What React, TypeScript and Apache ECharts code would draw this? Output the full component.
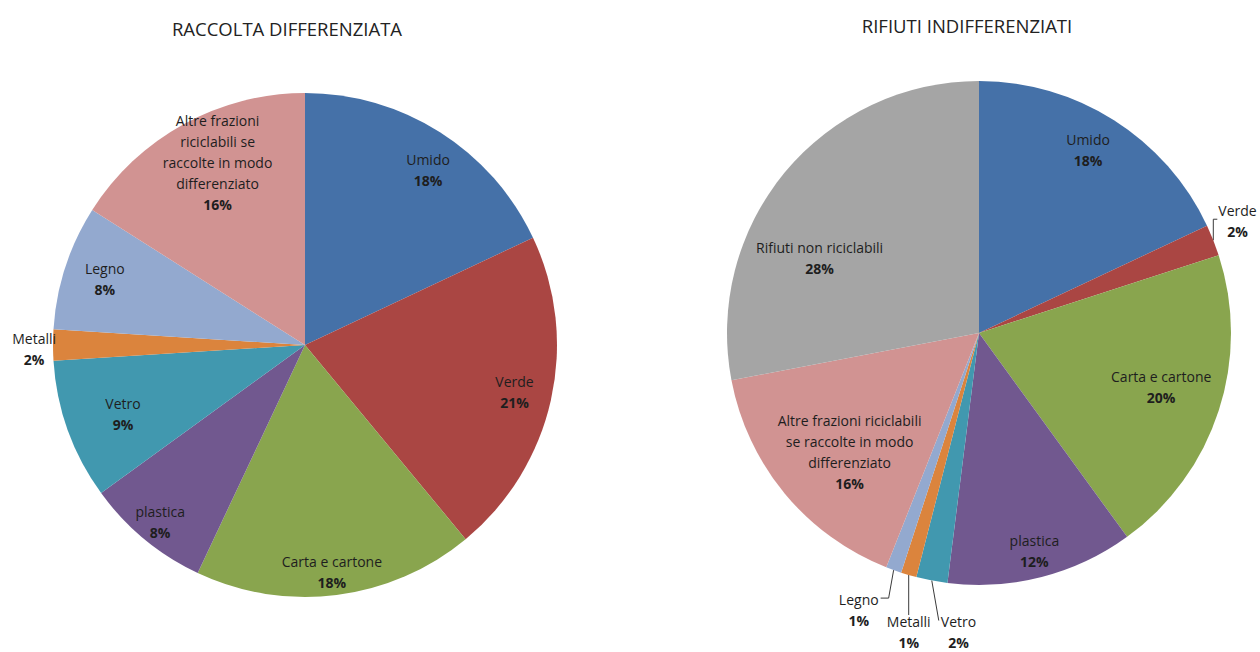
import React, { useEffect, useRef } from "react";
import * as echarts from "echarts";

const leftTitle = "RACCOLTA DIFFERENZIATA";
const rightTitle = "RIFIUTI INDIFFERENZIATI";

const leftNames = [
  "Umido",
  "Verde",
  "Carta e cartone",
  "plastica",
  "Vetro",
  "Metalli",
  "Legno",
  "Altre frazioni\nriciclabili se\nraccolte in modo\ndifferenziato",
];
const leftValues = [18, 21, 18, 8, 9, 2, 8, 16];
const leftColors = ["#4571A8", "#AA4643", "#89A54E", "#71588F", "#4198AF", "#DB843D", "#93A9CF", "#D19392"];
const leftOutside = [false, false, false, false, false, true, false, false];

const rightNames = [
  "Umido",
  "Verde",
  "Carta e cartone",
  "plastica",
  "Vetro",
  "Metalli",
  "Legno",
  "Altre frazioni riciclabili\nse raccolte in modo\ndifferenziato",
  "Rifiuti non riciclabili",
];
const rightValues = [18, 2, 20, 12, 2, 1, 1, 16, 28];
const rightColors = ["#4571A8", "#AA4643", "#89A54E", "#71588F", "#4198AF", "#DB843D", "#93A9CF", "#D19392", "#A5A5A5"];
const rightOutside = [false, true, false, false, true, true, true, false, false];

const FONT = "Open Sans";
const R = 252;

const rich = {
  n: { fontFamily: FONT, fontSize: 14, color: "#1e1e1e", lineHeight: 21, align: "center" },
  p: { fontFamily: FONT, fontSize: 14, fontWeight: "bold", color: "#1e1e1e", lineHeight: 21, align: "center" },
};

function fmt(p: any) {
  const lines = String(p.name).split("\n").map((l: string) => `{n|${l}}`);
  return lines.join("\n") + `\n{p|${p.value}%}`;
}

// Leader-line shape for outside labels: elbow offset from the arc point, then a horizontal run,
// and where the label sits relative to the line's end.
type Leader = { ex: number; ey: number; h: number; anchor: "left" | "right" | "center"; gap: number; oy: number; hidden?: boolean };
const leftLeaders: Record<number, Leader> = {
  5: { ex: 0, ey: 0, h: 0, anchor: "right", gap: -3, oy: -14, hidden: true },
};
const rightLeaders: Record<number, Leader> = {
  1: { ex: 0, ey: -21, h: 4, anchor: "left", gap: 1, oy: -16 },
  4: { ex: 7, ey: 40, h: 0, anchor: "left", gap: 2, oy: -6 },
  5: { ex: 0, ey: 40, h: 0, anchor: "center", gap: 0, oy: 0 },
  6: { ex: -5, ey: 28, h: -8, anchor: "right", gap: 2, oy: -6 },
};

// Nudges of the inside labels (Excel's best-fit placement)
const leftNudges: Record<number, [number, number]> = {
  0: [8, 6],
  2: [0, 14],
  3: [-8, 12],
  4: [20, -4],
  6: [4, 0],
  7: [16, 6],
};
const rightNudges: Record<number, [number, number]> = {
  0: [-6, -2],
  2: [-22, -12],
  3: [2, 10],
  7: [36, -18],
  8: [6, 62],
};

function buildSeries(
  center: [number, number],
  names: string[],
  values: number[],
  colors: string[],
  outside: boolean[],
  leaders: Record<number, Leader>,
  nudges: Record<number, [number, number]>
) {
  const main = {
    type: "pie",
    center,
    radius: [0, R],
    startAngle: 90,
    clockwise: true,
    avoidLabelOverlap: false,
    emphasis: { disabled: true },
    labelLayout: (params: any) => {
      const t = leaders[params.dataIndex];
      if (!t || !params.labelLinePoints) return { hideOverlap: false };
      const p0 = params.labelLinePoints[0];
      const e1 = [p0[0] + t.ex, p0[1] + t.ey];
      const e2 = [e1[0] + t.h, e1[1]];
      const r = params.labelRect;
      let tx: number;
      if (t.anchor === "left") tx = e2[0] + t.gap;
      else if (t.anchor === "right") tx = e2[0] - t.gap - r.width;
      else tx = e2[0] - r.width / 2;
      const ty = e2[1] + t.oy;
      return {
        hideOverlap: false,
        dx: tx - r.x,
        dy: ty - r.y,
        labelLinePoints: [p0, e1, e2],
      };
    },
    data: names.map((n, i) => {
      const t = leaders[i];
      return {
        name: n,
        value: values[i],
        itemStyle: { color: colors[i] },
        label: outside[i]
          ? {
              show: true,
              position: "outside",
              formatter: fmt,
              rich,
              overflow: "none",
              distanceToLabelLine: 0,
            }
          : { show: false },
        labelLine: outside[i]
          ? {
              show: true,
              length: 10,
              length2: 4,
              smooth: false,
              lineStyle: { color: "#3a3a3a", width: 1, opacity: t && t.hidden ? 0 : 1 },
            }
          : { show: false },
      };
    }),
  };
  const overlay = {
    type: "pie",
    center,
    radius: [R * 0.68, R],
    startAngle: 90,
    clockwise: true,
    silent: true,
    avoidLabelOverlap: false,
    emphasis: { disabled: true },
    itemStyle: { color: "rgba(0,0,0,0)" },
    labelLine: { show: false },
    labelLayout: (params: any) => {
      const nd = nudges[params.dataIndex];
      return nd ? { hideOverlap: false, dx: nd[0], dy: nd[1] } : { hideOverlap: false };
    },
    data: names.map((n, i) => ({
      name: n,
      value: values[i],
      label: outside[i]
        ? { show: false }
        : { show: true, position: "inside", formatter: fmt, rich, align: "center", overflow: "none" },
    })),
  };
  return [main, overlay];
}

export default function App() {
  const ref = useRef<HTMLDivElement>(null);
  useEffect(() => {
    document.body.style.margin = "0";
    const chart = echarts.init(ref.current!, null, { renderer: "svg" });
    chart.setOption({
      animation: false,
      backgroundColor: "#ffffff",
      graphic: [
        {
          type: "text",
          x: 287,
          y: 28,
          style: {
            text: leftTitle,
            fontFamily: FONT,
            fontSize: 18.5,
            fill: "#222",
            align: "center",
            verticalAlign: "middle",
          },
        },
        {
          type: "text",
          x: 967,
          y: 25,
          style: {
            text: rightTitle,
            fontFamily: FONT,
            fontSize: 18.5,
            fill: "#222",
            align: "center",
            verticalAlign: "middle",
          },
        },
      ],
      series: [
        ...buildSeries([305, 345], leftNames, leftValues, leftColors, leftOutside, leftLeaders, leftNudges),
        ...buildSeries([979, 333], rightNames, rightValues, rightColors, rightOutside, rightLeaders, rightNudges),
      ],
    });
    return () => chart.dispose();
  }, []);
  return <div ref={ref} style={{ width: 1260, height: 652 }} />;
}
